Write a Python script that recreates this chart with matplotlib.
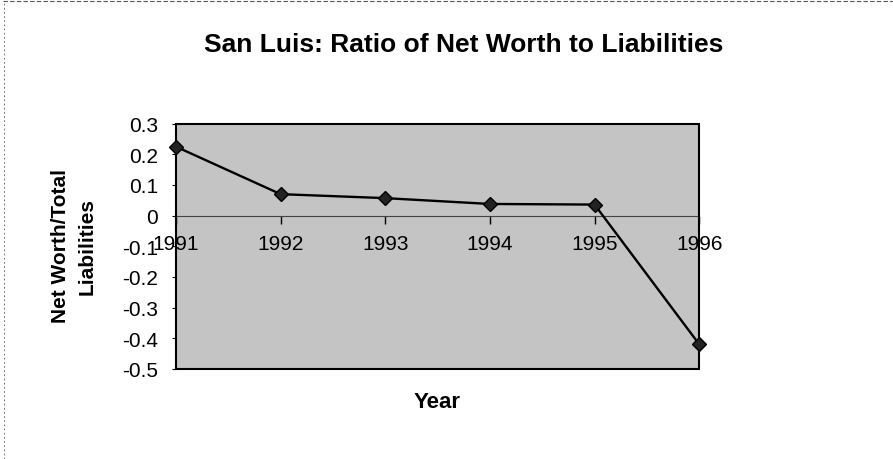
import matplotlib.pyplot as plt
from matplotlib.patches import Rectangle
from matplotlib.lines import Line2D

# Data
years = ['1991', '1992', '1993', '1994', '1995', '1996']
ratio = [0.225, 0.07, 0.057, 0.038, 0.036, -0.42]
y_ticks = [0.3, 0.2, 0.1, 0, -0.1, -0.2, -0.3, -0.4, -0.5]
y_labels = ['0.3', '0.2', '0.1', '0', '-0.1', '-0.2', '-0.3', '-0.4', '-0.5']

plt.rcParams['font.family'] = ['Liberation Sans', 'DejaVu Sans']

fig = plt.figure(figsize=(8.93, 4.6), dpi=100)
ax = fig.add_axes([0.197, 0.196, 0.586, 0.533])
ax.set_facecolor('#c4c4c4')

x = list(range(len(years)))
ax.plot(x, ratio, color='black', linewidth=1.7, marker='D', markersize=7,
        markerfacecolor='#222222', markeredgecolor='black', clip_on=False, zorder=6)

ax.set_xlim(0, len(years) - 1)
ax.set_ylim(-0.5, 0.3)

# category axis crosses at zero
ax.spines['bottom'].set_position(('data', 0))
ax.spines['bottom'].set_linewidth(0.8)
ax.spines['bottom'].set_color('#444444')
for s in ['top', 'right', 'left']:
    ax.spines[s].set_visible(False)
ax.add_patch(Rectangle((0, 0), 1, 1, transform=ax.transAxes, fill=False,
                       edgecolor='black', linewidth=1.5, clip_on=False, zorder=5))

ax.set_xticks(x)
ax.set_xticklabels(years, fontsize=15)
ax.tick_params(axis='x', direction='out', length=6, width=1, pad=7)
ax.set_yticks(y_ticks)
ax.set_yticklabels(y_labels, fontsize=15)
ax.tick_params(axis='y', direction='out', length=3, width=0.8, pad=10)

fig.text(0.519, 0.902, 'San Luis: Ratio of Net Worth to Liabilities', ha='center',
         va='center', fontsize=19, fontweight='bold')
fig.text(0.49, 0.124, 'Year', ha='center', va='center', fontsize=16, fontweight='bold')
fig.text(0.083, 0.465, 'Net Worth/Total\nLiabilities', ha='center', va='center',
         rotation=90, fontsize=15, fontweight='bold', linespacing=1.5)

# dashed page border (top and left)
fig.add_artist(Line2D([0.003, 1], [0.995, 0.995], transform=fig.transFigure,
                      color='#555555', linewidth=0.8, linestyle=(0, (4, 2))))
fig.add_artist(Line2D([0.004, 0.004], [0, 0.995], transform=fig.transFigure,
                      color='#555555', linewidth=0.6, linestyle=(0, (2, 3))))

fig.savefig('out.png', dpi=100)
